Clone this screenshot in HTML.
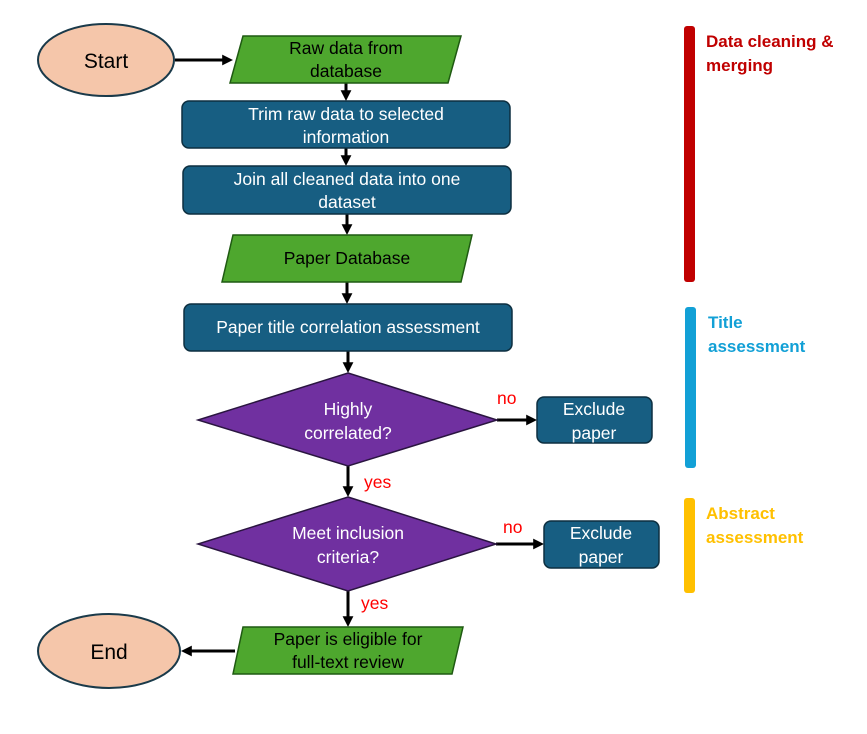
<!DOCTYPE html>
<html><head><meta charset="utf-8"><style>
html,body{margin:0;padding:0;background:#fff;}
svg{display:block;font-family:"Liberation Sans",sans-serif;}
.w{fill:#fff;font-size:17.5px;text-anchor:middle;}
.k{fill:#000;font-size:17.5px;text-anchor:middle;}
.r{fill:#ff0000;font-size:17.5px;}
</style></head><body>
<svg width="867" height="734" viewBox="0 0 867 734" xmlns="http://www.w3.org/2000/svg">
<defs>
<marker id="a" markerWidth="3.6" markerHeight="3.6" refX="2.27" refY="1.8" orient="auto" markerUnits="strokeWidth">
<path d="M0,0 L3.6,1.8 L0,3.6 Z" fill="#000"/></marker>
</defs>
<g stroke="#000" stroke-width="3" fill="none" marker-end="url(#a)">
<line x1="175" y1="60" x2="229" y2="60"/>
<line x1="346" y1="83" x2="346" y2="97"/>
<line x1="346" y1="148" x2="346" y2="162"/>
<line x1="347" y1="214" x2="347" y2="231"/>
<line x1="347" y1="282" x2="347" y2="300"/>
<line x1="348" y1="351" x2="348" y2="369"/>
<line x1="497" y1="420" x2="533" y2="420"/>
<line x1="348" y1="466" x2="348" y2="493"/>
<line x1="496" y1="544" x2="540" y2="544"/>
<line x1="348" y1="591" x2="348" y2="623"/>
<line x1="235" y1="651" x2="185" y2="651"/>
</g>
<ellipse cx="106" cy="60" rx="68" ry="36" fill="#F5C6AA" stroke="#1a3a4a" stroke-width="2"/>
<text x="106" y="68" class="k" style="font-size:21px">Start</text>
<ellipse cx="109" cy="651" rx="71" ry="37" fill="#F5C6AA" stroke="#1a3a4a" stroke-width="2"/>
<text x="109" y="659" class="k" style="font-size:21px">End</text>
<g fill="#4EA72E" stroke="#1f5a12" stroke-width="1.5">
<polygon points="243,36 461,36 448,83 230,83"/>
<polygon points="233,235 472,235 461,282 222,282"/>
<polygon points="243,627 463,627 452,674 233,674"/>
</g>
<text x="346" y="54" class="k">Raw data from</text>
<text x="346" y="77" class="k">database</text>
<text x="347" y="264" class="k">Paper Database</text>
<text x="348" y="645" class="k">Paper is eligible for</text>
<text x="348" y="668" class="k">full-text review</text>
<g fill="#175E82" stroke="#0d2f40" stroke-width="1.5">
<rect x="182" y="101" width="328" height="47" rx="7"/>
<rect x="183" y="166" width="328" height="48" rx="7"/>
<rect x="184" y="304" width="328" height="47" rx="7"/>
<rect x="537" y="397" width="115" height="46" rx="7"/>
<rect x="544" y="521" width="115" height="47" rx="7"/>
</g>
<text x="346" y="120" class="w">Trim raw data to selected</text>
<text x="346" y="143" class="w">information</text>
<text x="347" y="185" class="w">Join all cleaned data into one</text>
<text x="347" y="208" class="w">dataset</text>
<text x="348" y="333" class="w">Paper title correlation assessment</text>
<text x="594" y="415" class="w">Exclude</text>
<text x="594" y="439" class="w">paper</text>
<text x="601" y="539" class="w">Exclude</text>
<text x="601" y="563" class="w">paper</text>
<g fill="#7030A0" stroke="#2a1540" stroke-width="1.5">
<polygon points="348,373 497,420 348,466 198,420"/>
<polygon points="348,497 496,544 348,591 198,544"/>
</g>
<text x="348" y="415" class="w">Highly</text>
<text x="348" y="439" class="w">correlated?</text>
<text x="348" y="539" class="w">Meet inclusion</text>
<text x="348" y="563" class="w">criteria?</text>
<text x="497" y="404" class="r">no</text>
<text x="364" y="488" class="r">yes</text>
<text x="503" y="533" class="r">no</text>
<text x="361" y="609" class="r">yes</text>
<rect x="684" y="26" width="11" height="256" rx="3" fill="#C00000"/>
<rect x="685" y="307" width="11" height="161" rx="3" fill="#12A0D6"/>
<rect x="684" y="498" width="11" height="95" rx="3" fill="#FFC000"/>
<g font-weight="bold" font-size="17">
<text x="706" y="47" fill="#C00000">Data cleaning &amp;</text>
<text x="706" y="71" fill="#C00000">merging</text>
<text x="708" y="328" fill="#12A0D6">Title</text>
<text x="708" y="352" fill="#12A0D6">assessment</text>
<text x="706" y="519" fill="#FFC000">Abstract</text>
<text x="706" y="543" fill="#FFC000">assessment</text>
</g>
</svg>
</body></html>
